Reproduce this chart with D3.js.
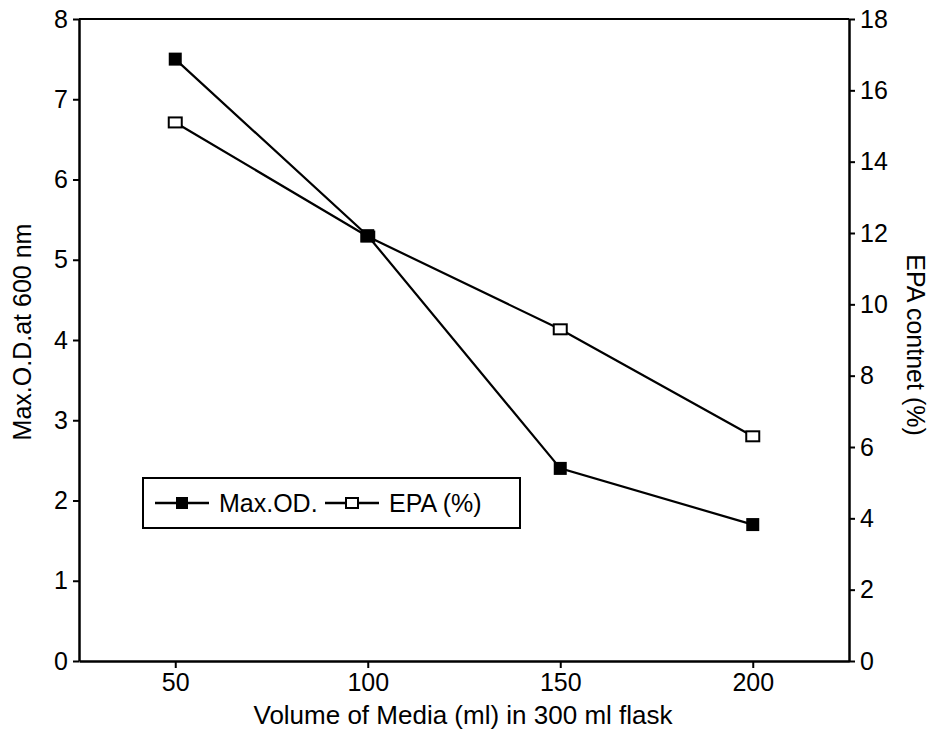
<!DOCTYPE html>
<html>
<head>
<meta charset="utf-8">
<script src="https://cdn.jsdelivr.net/npm/d3@7"></script>
<style>
  body { margin: 0; background: #fff; }
  text { font-family: "Liberation Sans", Arial, sans-serif; fill: #000; }
</style>
</head>
<body>
<div id="chart-area"></div>
<script>
var volumes = [50, 100, 150, 200];
var maxOD = [7.5, 5.3, 2.4, 1.7];
var epa = [15.1, 11.9, 9.3, 6.3];
var xTicks = [50, 100, 150, 200];
var leftTicks = [0, 1, 2, 3, 4, 5, 6, 7, 8];
var rightTicks = [0, 2, 4, 6, 8, 10, 12, 14, 16, 18];

var margin = { left: 79, right: 87, top: 19, bottom: 70 };
var width = 936 - margin.left - margin.right;
var height = 731 - margin.top - margin.bottom;

var svg = d3.select("#chart-area").append("svg")
    .attr("width", 936)
    .attr("height", 731);

var g = svg.append("g")
    .attr("transform", "translate(" + margin.left + ", " + margin.top + ")");

var x = d3.scaleLinear().domain([25, 225]).range([0, width]);
var yL = d3.scaleLinear().domain([0, 8]).range([height, 0]);
var yR = d3.scaleLinear().domain([0, 18]).range([height, 0]);

// top frame line
g.append("line")
    .attr("x1", 0).attr("x2", width)
    .attr("y1", 0).attr("y2", 0)
    .attr("stroke", "#000").attr("stroke-width", 2);

function styleAxis(sel) {
    sel.selectAll("path").attr("stroke-width", 2.5);
    sel.selectAll("line").attr("stroke-width", 2);
    sel.selectAll("text").attr("font-size", "25px")
        .style("font-family", "'Liberation Sans', Arial, sans-serif");
}

g.append("g")
    .attr("transform", "translate(0," + height + ")")
    .call(d3.axisBottom(x).tickValues(xTicks).tickSizeInner(7).tickSizeOuter(0).tickPadding(5))
    .call(styleAxis);

g.append("g")
    .call(d3.axisLeft(yL).tickValues(leftTicks).tickSizeInner(6).tickSizeOuter(0).tickPadding(5))
    .call(styleAxis);

g.append("g")
    .attr("transform", "translate(" + width + ",0)")
    .call(d3.axisRight(yR).tickValues(rightTicks).tickSizeInner(6).tickSizeOuter(0).tickPadding(5))
    .call(styleAxis);

// lines
var lineOD = d3.line()
    .x((d, i) => x(volumes[i]))
    .y((d) => yL(d));
var lineEPA = d3.line()
    .x((d, i) => x(volumes[i]))
    .y((d) => yR(d));

g.append("path").datum(maxOD)
    .attr("d", lineOD)
    .attr("fill", "none").attr("stroke", "#000").attr("stroke-width", 2.2);
g.append("path").datum(epa)
    .attr("d", lineEPA)
    .attr("fill", "none").attr("stroke", "#000").attr("stroke-width", 2.2);

var ms = 13;
g.selectAll(".epa-pt").data(epa).enter()
    .append("rect")
    .attr("class", "epa-pt")
    .attr("x", (d, i) => x(volumes[i]) - ms / 2)
    .attr("y", (d) => yR(d) - 5)
    .attr("width", ms).attr("height", 10)
    .attr("fill", "#fff").attr("stroke", "#000").attr("stroke-width", 2);

g.selectAll(".od-pt").data(maxOD).enter()
    .append("rect")
    .attr("class", "od-pt")
    .attr("x", (d, i) => x(volumes[i]) - ms / 2)
    .attr("y", (d) => yL(d) - ms / 2)
    .attr("width", ms).attr("height", ms)
    .attr("fill", "#000");

// legend
var lg = svg.append("g").attr("transform", "translate(143,478)");
lg.append("rect")
    .attr("width", 377).attr("height", 50)
    .attr("fill", "#fff").attr("stroke", "#000").attr("stroke-width", 2);
lg.append("line").attr("x1", 12).attr("x2", 66).attr("y1", 25).attr("y2", 25)
    .attr("stroke", "#000").attr("stroke-width", 2.5);
lg.append("rect").attr("x", 33).attr("y", 19).attr("width", 12).attr("height", 12).attr("fill", "#000");
lg.append("text").attr("x", 76).attr("y", 34).attr("font-size", "25px").text("Max.OD.");
lg.append("line").attr("x1", 182).attr("x2", 236).attr("y1", 25).attr("y2", 25)
    .attr("stroke", "#000").attr("stroke-width", 2.5);
lg.append("rect").attr("x", 203).attr("y", 20).attr("width", 12).attr("height", 10)
    .attr("fill", "#fff").attr("stroke", "#000").attr("stroke-width", 2);
lg.append("text").attr("x", 246).attr("y", 34).attr("font-size", "25px").text("EPA (%)");

// axis labels
svg.append("text")
    .attr("x", 463)
    .attr("y", 724)
    .attr("font-size", "26px")
    .attr("text-anchor", "middle")
    .text("Volume of Media (ml) in 300 ml flask");

svg.append("text")
    .attr("transform", "translate(31,332) rotate(-90)")
    .attr("font-size", "25px")
    .attr("text-anchor", "middle")
    .text("Max.O.D.at 600 nm");

svg.append("text")
    .attr("transform", "translate(907,345) rotate(90)")
    .attr("font-size", "25px")
    .attr("text-anchor", "middle")
    .text("EPA contnet (%)");
</script>
</body>
</html>
